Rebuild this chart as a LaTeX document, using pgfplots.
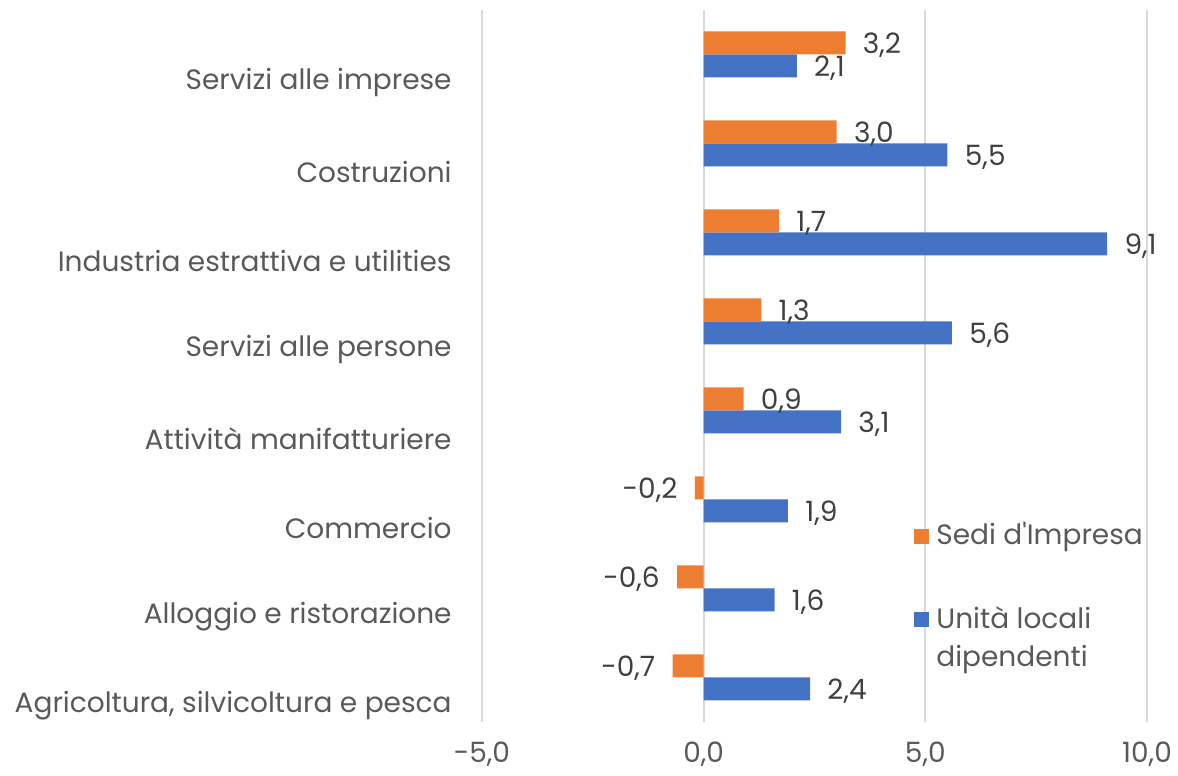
\documentclass[border=0pt]{standalone}
\usepackage{fontspec}
\setmainfont{Poppins}
\usepackage{pgfplots}
\pgfplotsset{compat=1.18}
\definecolor{sedi}{HTML}{ED7D31}
\definecolor{unita}{HTML}{4472C4}
\definecolor{gridgray}{HTML}{D9D9D9}
\definecolor{labelgray}{HTML}{595959}
\definecolor{valgray}{HTML}{404040}
\newcommand{\chartfont}{\fontsize{14pt}{19pt}\selectfont}
\begin{document}
\begin{tikzpicture}
\begin{axis}[
    name=ax,
    scale only axis,
    width=332.5pt, height=356pt,
    xmin=-5, xmax=10,
    ymin=-0.5, ymax=7.5,
    xtick={-5,0,5,10},
    ytick={0,1,2,3,4,5,6,7},
    yticklabels={{Agricoltura, silvicoltura e pesca}, Alloggio e ristorazione, Commercio,
        Attività manifatturiere, Servizi alle persone, Industria estrattiva e utilities,
        Costruzioni, Servizi alle imprese},
    xmajorgrids=true,
    grid style={draw=gridgray, line width=1pt},
    axis line style={draw=none},
    major tick length=0pt,
    /pgf/number format/.cd, fixed, fixed zerofill, precision=1, use comma, assume math mode=true,
    /pgfplots/.cd,
    tick label style={font=\chartfont, text=labelgray, inner sep=0pt},
    xticklabel style={yshift=-10pt},
    yticklabel style={xshift=-15pt, yshift=-14pt},
    xbar, bar width=11.5pt,
    nodes near coords,
    every node near coord/.append style={font=\chartfont, text=valgray, inner xsep=8.5pt, inner ysep=0pt, yshift=-1pt},
    legend style={draw=none, fill=none, at={(0.6496,0.281)}, anchor=north west, inner sep=0pt,
        font=\chartfont, text=labelgray, row sep=27pt,
        nodes={inner sep=0pt, anchor=base west},
        /tikz/every odd column/.append style={column sep=3.5pt}},
    legend image code/.code={\fill[#1] (0pt,0.5pt) rectangle (7.5pt,8pt);},
    reverse legend,
]
\addplot[draw=none, fill=unita, bar shift=-5.75pt] coordinates {
    (2.4,0) (1.6,1) (1.9,2) (3.1,3) (5.6,4) (9.1,5) (5.5,6) (2.1,7)
};
\addlegendentry{\begin{tabular}[t]{@{}l@{}}Unità locali\\dipendenti\end{tabular}}
\addplot[draw=none, fill=sedi, bar shift=5.75pt] coordinates {
    (-0.7,0) (-0.6,1) (-0.2,2) (0.9,3) (1.3,4) (1.7,5) (3.0,6) (3.2,7)
};
\addlegendentry{Sedi d\textquotesingle Impresa}
\end{axis}
\pgfresetboundingbox
\path ([xshift=-241pt,yshift=-27pt]ax.south west) rectangle ([xshift=15.5pt,yshift=5pt]ax.north east);
\end{tikzpicture}
\end{document}
